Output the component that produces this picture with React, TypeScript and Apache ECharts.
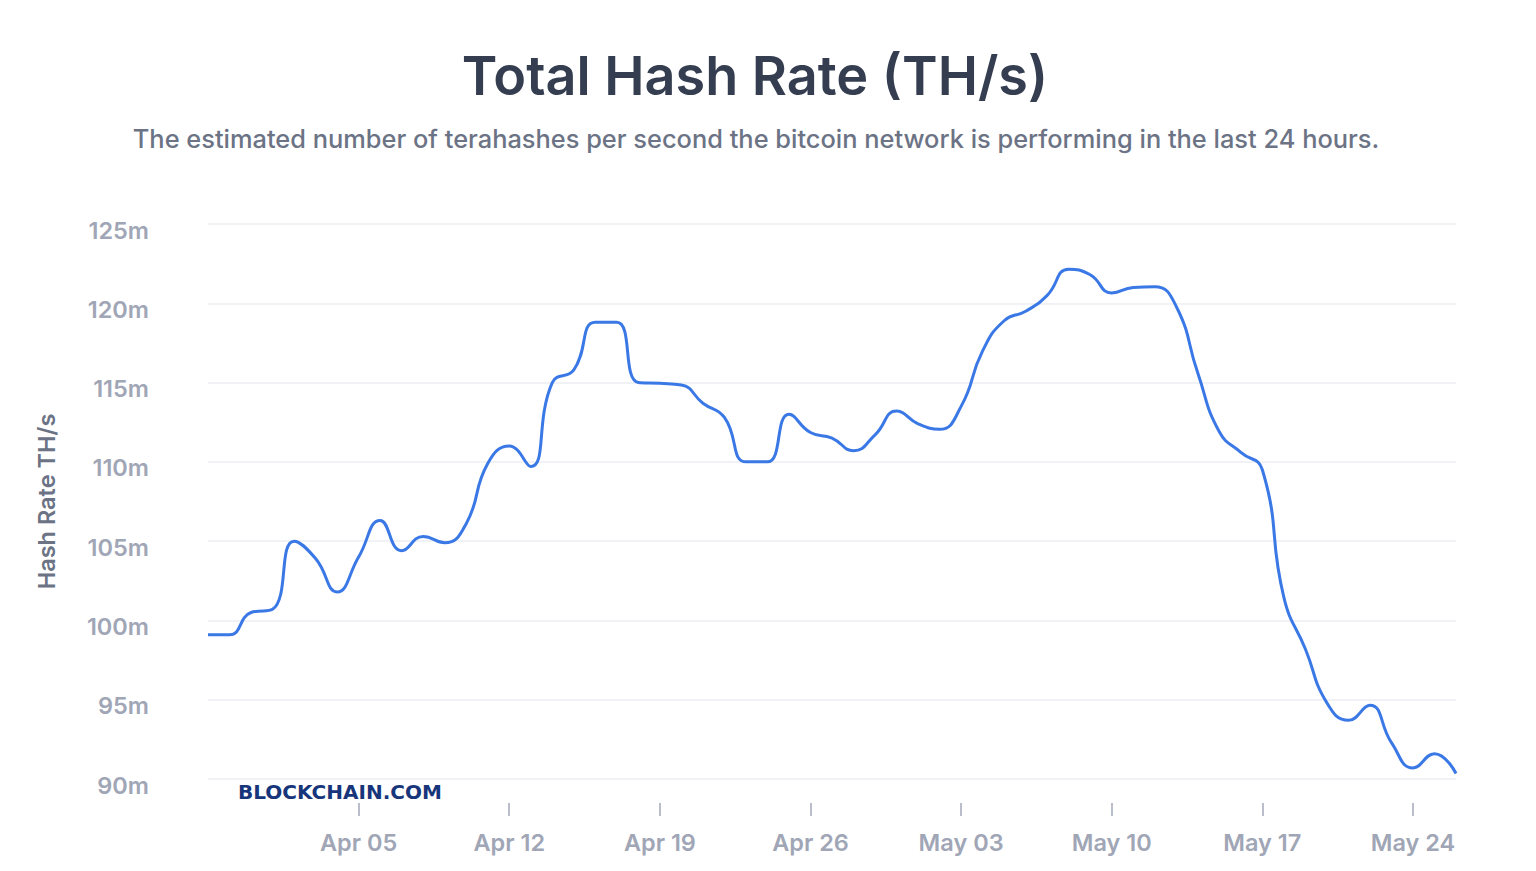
import React, { useEffect, useRef } from "react";
import * as echarts from "echarts";

const TITLE = "Total Hash Rate (TH/s)";
const SUBTITLE =
  "The estimated number of terahashes per second the bitcoin network is performing in the last 24 hours.";
const Y_NAME = "Hash Rate TH/s";
const WATERMARK = "BLOCKCHAIN.COM";

const START_DATE = "2020-03-29";
const HASH_RATE = [
  99.1, 99.1, 100.5, 100.7, 105.0, 103.9, 101.8, 104.0, 106.3, 104.4,
  105.3, 104.9, 106.1, 109.9, 111.0, 109.7, 115.0, 115.8, 118.8, 118.8,
  115.0, 114.95, 114.85, 113.7, 112.8, 110.0, 110.0, 113.0, 111.85, 111.5,
  110.7, 111.7, 113.2, 112.4, 112.05, 113.5, 117.0, 118.9, 119.5, 120.5,
  122.15, 121.8, 120.65, 121.0, 121.05, 119.8, 115.6, 111.9, 110.6, 109.5,
  101.45, 98.2, 94.8, 93.7, 94.65, 92.3, 90.7, 91.6, 90.35,
];
const Y_MIN = 90;
const Y_MAX = 125;
const Y_STEP = 5;
const TICK_EVERY_DAYS = 7;

const MONTHS = ["Jan", "Feb", "Mar", "Apr", "May", "Jun", "Jul", "Aug", "Sep", "Oct", "Nov", "Dec"];

function buildDates(): string[] {
  const base = new Date(START_DATE + "T00:00:00Z").getTime();
  return HASH_RATE.map((_, i) => {
    const d = new Date(base + i * 86400000);
    const dd = String(d.getUTCDate()).padStart(2, "0");
    return `${MONTHS[d.getUTCMonth()]} ${dd}`;
  });
}

export default function App() {
  const ref = useRef<HTMLDivElement>(null);
  useEffect(() => {
    if (!ref.current) return;
    const chart = echarts.init(ref.current, undefined, { renderer: "svg" });
    const dates = buildDates();
    const showIdx = (i: number) => i > 0 && i % TICK_EVERY_DAYS === 0;
    chart.setOption({
      animation: false,
      backgroundColor: "#ffffff",
      textStyle: { fontFamily: "Inter" },
      graphic: [
        {
          type: "text",
          x: 755,
          y: 75,
          style: {
            text: TITLE,
            fontFamily: "Inter",
            fontSize: 54,
            fontWeight: 600,
            fill: "#353e50",
            textAlign: "center",
            textVerticalAlign: "middle",
          },
        },
        {
          type: "text",
          x: 756,
          y: 138,
          style: {
            text: SUBTITLE,
            fontFamily: "Inter",
            fontSize: 25.4,
            fontWeight: 500,
            fill: "#6b7385",
            textAlign: "center",
            textVerticalAlign: "middle",
          },
        },
        {
          type: "text",
          x: 238,
          y: 792,
          style: {
            text: WATERMARK,
            fontFamily: "DejaVu Sans",
            fontSize: 20,
            fontWeight: 900,
            fill: "#17357a",
            textAlign: "left",
            textVerticalAlign: "middle",
          },
        },
      ],
      grid: { left: 208, right: 80, top: 224, bottom: 92, containLabel: false },
      xAxis: {
        type: "category",
        data: dates,
        boundaryGap: false,
        offset: 24,
        axisLine: { show: false },
        axisTick: {
          show: true,
          interval: (i: number) => showIdx(i),
          length: 13,
          lineStyle: { color: "#a3a9b8", width: 1.5 },
        },
        axisLabel: {
          interval: (i: number) => showIdx(i),
          margin: 27,
          color: "#a0a6b6",
          fontSize: 23.5,
          fontWeight: 600,
          fontFamily: "Inter",
        },
        splitLine: { show: false },
      },
      yAxis: {
        type: "value",
        min: Y_MIN,
        max: Y_MAX,
        interval: Y_STEP,
        name: Y_NAME,
        nameLocation: "middle",
        nameGap: 150,
        nameTextStyle: {
          color: "#6b7385",
          fontSize: 23.5,
          fontWeight: 600,
          fontFamily: "Inter",
        },
        axisLine: { show: false },
        axisTick: { show: false },
        axisLabel: {
          formatter: (v: number) => `${v}m`,
          margin: 59,
          color: "#a0a6b6",
          fontSize: 23.5,
          fontWeight: 600,
          fontFamily: "Inter",
          verticalAlign: "top",
          lineHeight: 12,
        },
        splitLine: { lineStyle: { color: "#eceef3", width: 1.5 } },
      },
      series: [
        {
          type: "line",
          data: HASH_RATE,
          smooth: 0.5,
          showSymbol: false,
          symbol: "none",
          lineStyle: { color: "#3a78e6", width: 3 },
        },
      ],
    });
    return () => chart.dispose();
  }, []);
  return (
    <div
      ref={ref}
      style={{ position: "fixed", left: 0, top: 0, width: 1536, height: 871, background: "#fff" }}
    />
  );
}
